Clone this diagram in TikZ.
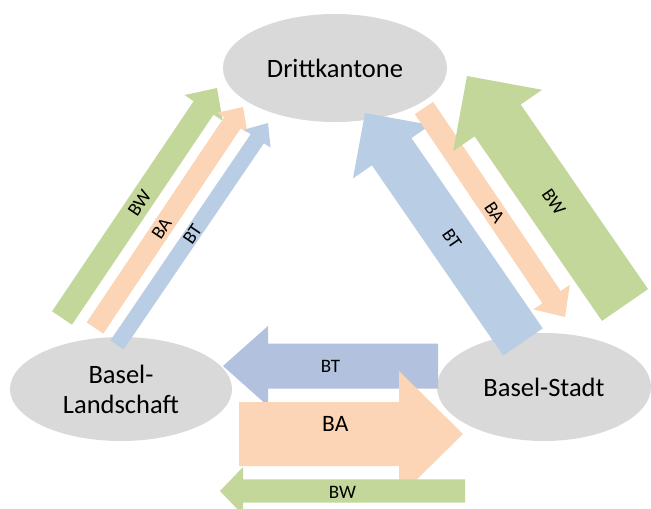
\documentclass[tikz,border=0pt]{standalone}
\usepackage{fontspec}
\setmainfont{Carlito}
\usetikzlibrary{calc,shapes.geometric}
\definecolor{ellgray}{RGB}{217,217,217}
\definecolor{arrgreen}{RGB}{196,215,155}
\definecolor{arrorange}{RGB}{251,213,181}
\definecolor{arrblue}{RGB}{185,205,229}
\definecolor{arrbluegray}{RGB}{177,193,222}
\tikzset{
  ell/.style={ellipse, fill=ellgray, inner sep=0pt, align=center,
              font=\fontsize{26.5}{30}\selectfont},
  lbl/.style={inner sep=0pt, font=\fontsize{19}{19}\selectfont},
  biglbl/.style={inner sep=0pt, font=\fontsize{23.5}{23.5}\selectfont}
}
% #1 name, #2 tail, #3 tip, #4 shaft half width, #5 head half width,
% #6 head length, #7 colour, #8 label, #9 label options
\newcommand\blockarr[9]{%
  \coordinate (#1t) at #2;
  \coordinate (#1h) at #3;
  \coordinate (#1c) at ($(#1h)!#6!(#1t)$);
  \fill[#7] ($(#1t)!#4!90:(#1h)$) -- ($(#1c)!#4!90:(#1h)$)
     -- ($(#1c)!#5!90:(#1h)$) -- (#1h) -- ($(#1c)!#5!-90:(#1h)$)
     -- ($(#1c)!#4!-90:(#1h)$) -- ($(#1t)!#4!-90:(#1h)$) -- cycle;
  \path (#1t) -- (#1h) node[sloped, #9] (#1l) {#8};
}
\begin{document}
\begin{tikzpicture}[x=1pt,y=-1pt]
\clip (0,0) rectangle (651,509);
\fill[white] (0,0) rectangle (651,509);
% ellipses
\node[ell, minimum width=224pt, minimum height=108pt] (dk) at (335,68) {Drittkantone};
\node[ell, minimum width=222pt, minimum height=104pt] (bl) at (121,389) {Basel-\\Landschaft};
\node[ell, minimum width=214pt, minimum height=108pt] (bs) at (544,387) {Basel-Stadt};
% left arrows (to Drittkantone)
\blockarr{lw}{(62,318)}{(217,88)}{12pt}{23pt}{24pt}{arrgreen}{BW}{lbl, pos=0.5}
\blockarr{la}{(95,328)}{(243,107)}{10pt}{18pt}{19pt}{arrorange}{BA}{lbl, pos=0.45}
\blockarr{lt}{(117,345)}{(268,123)}{8pt}{16pt}{19pt}{arrblue}{BT}{lbl, pos=0.5}
% right arrows
\blockarr{rt}{(523,342)}{(365,113)}{24pt}{47pt}{47pt}{arrblue}{BT}{lbl, pos=0.45}
\blockarr{ra}{(424,108)}{(565,317)}{11pt}{22pt}{24pt}{arrorange}{BA}{lbl, pos=0.5}
\blockarr{rw}{(625,305)}{(467,76)}{28pt}{54pt}{54pt}{arrgreen}{BW}{lbl, pos=0.45}
% bottom arrows
\blockarr{bt}{(438,366)}{(223,366)}{22.5pt}{40pt}{45pt}{arrbluegray}{BT}{lbl, pos=0.5}
\blockarr{ba}{(239,434)}{(463,434)}{32pt}{63pt}{64pt}{arrorange}{BA}{biglbl, pos=0.43, yshift=10pt}
\blockarr{bw}{(465,491)}{(220,491)}{11.7pt}{24pt}{23pt}{arrgreen}{BW}{lbl, pos=0.5, yshift=-1pt}
\end{tikzpicture}
\end{document}
